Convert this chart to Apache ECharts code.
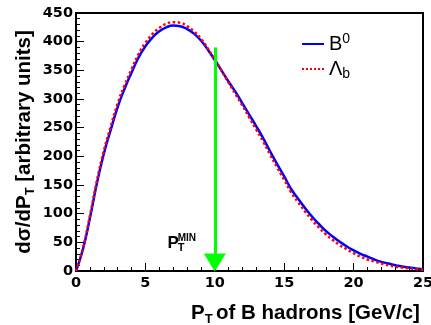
<!DOCTYPE html>
<html><head><meta charset="utf-8">
<script src="https://cdn.jsdelivr.net/npm/echarts@6/dist/echarts.min.js"></script>
<style>html,body{margin:0;padding:0;background:#fff}#c{width:431px;height:325px}</style>
</head><body><div id="c"></div>
<script>
const ptValues = [0,0.5,1,1.5,2,2.5,3,3.5,4,4.5,5,5.5,6,6.5,7,7.5,8,8.5,9,9.5,10,10.5,11,11.5,12,12.5,13,13.5,14,14.5,15,15.5,16,16.5,17,17.5,18,18.5,19,19.5,20,20.5,21,21.5,22,22.5,23,23.5,24,24.5,25];
const b0Values = [0,38,92,152,204,246,286,318,346,372,392,407,418,425,428,427,422,414,402,386,368,349,330,312,292,272,252,231,208,186,165,143,126,110,95,82,70,60,51,43,36,30,25,20,16,13,10,8,6,4.5,3];
const lambdaValues = [0,40,96,157,209,252,292,324,352,378,398,413,424,431,434,433,427,418,405,388,369,349,328,308,288,267,246,225,202,180,159,137,120,104,89,76,64,54,45,38,31,25,20,16.5,13,10,7.5,6,4.5,3.2,2.3];
const xTicks = {min:0, max:25, interval:5};
const yTicks = {min:0, max:450, interval:50};
const ptMinCut = 10;
const arrowTop = 390;

const pair = (arr) => ptValues.map((x,i)=>[x,arr[i]]);
const chart = echarts.init(document.getElementById('c'), null, {renderer:'canvas'});
const tickFont = {fontFamily:'DejaVu Sans', fontWeight:'bold', fontSize:14.5, color:'#000'};
chart.setOption({
  animation:false,
  backgroundColor:'#fff',
  grid:{left:76, right:8, top:13, bottom:54, outerBoundsMode:'none', containLabel:false, show:true, borderColor:'#000', borderWidth:2, backgroundColor:'transparent'},
  legend:{
    orient:'vertical', left:296, top:27, itemWidth:22, itemHeight:14, itemGap:5,
    data:['B0','Lb'],
    itemStyle:{opacity:0},
    formatter: n => n==='B0' ? '{n|B}{sup|0}' : '{n|Λ}{sub|b}',
    textStyle:{color:'#000', fontFamily:'Liberation Sans', fontSize:20,
      rich:{n:{fontSize:20, fontFamily:'Liberation Sans', color:'#000'},
            sup:{fontSize:14, fontFamily:'Liberation Sans', color:'#000', padding:[0,0,10,0]},
            sub:{fontSize:14, fontFamily:'Liberation Sans', color:'#000', padding:[10,0,0,0]}}}
  },
  xAxis:{type:'value', min:xTicks.min, max:xTicks.max, interval:xTicks.interval,
    axisLine:{lineStyle:{color:'#000', width:2}},
    axisTick:{inside:true, length:8, lineStyle:{color:'#000', width:1}},
    minorTick:{show:true, splitNumber:5, length:4, lineStyle:{color:'#000', width:1}},
    splitLine:{show:false},
    axisLabel:Object.assign({margin:5}, tickFont),
    name:'{p|P}{s|T} {p|of B hadrons [GeV/c]}', nameLocation:'middle', nameGap:30, nameMoveOverlap:false,
    nameTextStyle:{padding:[0,0,0,112], rich:{
      p:{fontFamily:'Liberation Sans', fontWeight:'bold', fontSize:20.5, color:'#000'},
      s:{fontFamily:'Liberation Sans', fontWeight:'bold', fontSize:13, color:'#000', padding:[12,0,0,0]}}}
  },
  yAxis:{type:'value', min:yTicks.min, max:yTicks.max, interval:yTicks.interval,
    axisLine:{lineStyle:{color:'#000', width:2}},
    axisTick:{inside:true, length:8, lineStyle:{color:'#000', width:1}},
    minorTick:{show:true, splitNumber:5, length:4, lineStyle:{color:'#000', width:1}},
    splitLine:{show:false},
    axisLabel:Object.assign({margin:3}, tickFont),
    name:'{p|dσ/dP}{s|T}{p| [arbitrary units]}', nameLocation:'middle', nameGap:39, nameRotate:90, nameMoveOverlap:false,
    nameTextStyle:{rich:{
      p:{fontFamily:'Liberation Sans', fontWeight:'bold', fontSize:20.5, color:'#000'},
      s:{fontFamily:'Liberation Sans', fontWeight:'bold', fontSize:13, color:'#000', padding:[12,0,0,0]}}}
  },
  series:[
    {name:'B0', type:'line', smooth:true, symbol:'none', data:pair(b0Values),
     lineStyle:{color:'#0000ff', width:2.5}, itemStyle:{color:'#0000ff'}, z:2,
     markLine:{silent:true, symbol:['none','triangle'], symbolSize:[22,18], animation:false,
       lineStyle:{color:'#00ff00', width:3, type:'solid'}, itemStyle:{color:'#00ff00'}, label:{show:false},
       data:[[{coord:[ptMinCut, arrowTop]}, {coord:[ptMinCut, 15]}]]},
     markPoint:{silent:true, symbol:'circle', symbolSize:0,
       data:[
         {coord:[7.0,48], label:{show:true, position:'inside', formatter:'P', fontFamily:'Liberation Sans', fontWeight:'bold', fontSize:17, color:'#000'}},
         {coord:[7.33,48], label:{show:true, position:'right', distance:0, formatter:'{a|MIN}\n{b|T}',
            rich:{a:{fontFamily:'Liberation Sans', fontWeight:'bold', fontSize:10, color:'#000', lineHeight:9},
                  b:{fontFamily:'Liberation Sans', fontWeight:'bold', fontSize:11, color:'#000', lineHeight:10}}}}
       ]}
    },
    {name:'Lb', type:'line', smooth:true, symbol:'none', data:pair(lambdaValues),
     lineStyle:{color:'#ff0000', width:2.5, type:'dotted'}, itemStyle:{color:'#ff0000'}, z:3}
  ]
});
</script></body></html>
